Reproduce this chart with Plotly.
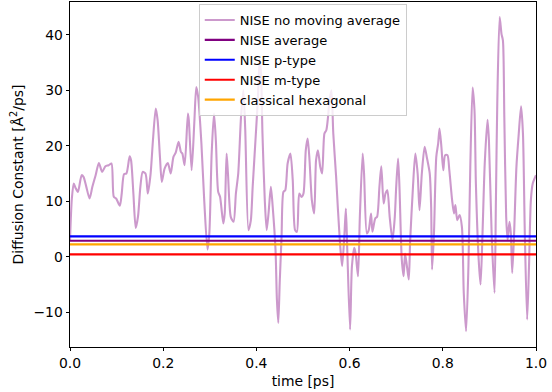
import plotly.graph_objects as go

# time [ps]
time_ps = [0.000, 0.004, 0.008, 0.012, 0.017, 0.025, 0.029, 0.035, 0.042, 0.048,
           0.055, 0.062, 0.069, 0.076, 0.083, 0.089, 0.094, 0.099, 0.107, 0.111,
           0.116, 0.121, 0.128, 0.131, 0.136, 0.141, 0.146, 0.151, 0.156, 0.162,
           0.167, 0.173, 0.178, 0.184, 0.188, 0.193, 0.197, 0.203, 0.210, 0.216,
           0.222, 0.227, 0.233, 0.238, 0.241, 0.246, 0.253, 0.255, 0.261, 0.267,
           0.271, 0.275, 0.282, 0.288, 0.295, 0.299, 0.304, 0.309, 0.313, 0.318,
           0.322, 0.329, 0.332, 0.336, 0.339, 0.345, 0.351, 0.356, 0.361, 0.367,
           0.372, 0.376, 0.383, 0.388, 0.392, 0.398, 0.403, 0.407, 0.410, 0.413,
           0.418, 0.422, 0.426, 0.431, 0.435, 0.441, 0.444, 0.447, 0.450, 0.454,
           0.458, 0.462, 0.467, 0.473, 0.478, 0.483, 0.487, 0.492, 0.497, 0.501,
           0.506, 0.510, 0.514, 0.519, 0.524, 0.528, 0.532, 0.537, 0.541, 0.546,
           0.550, 0.553, 0.557, 0.561, 0.565, 0.571, 0.575, 0.580, 0.584, 0.589,
           0.592, 0.595, 0.601, 0.605, 0.610, 0.613, 0.618, 0.622, 0.628, 0.631,
           0.637, 0.641, 0.646, 0.649, 0.655, 0.659, 0.664, 0.668, 0.673, 0.677,
           0.681, 0.686, 0.692, 0.697, 0.700, 0.704, 0.707, 0.712, 0.716, 0.719,
           0.723, 0.727, 0.730, 0.736, 0.741, 0.746, 0.750, 0.755, 0.761, 0.766,
           0.772, 0.775, 0.777, 0.781, 0.786, 0.790, 0.793, 0.797, 0.801, 0.805,
           0.810, 0.814, 0.820, 0.824, 0.827, 0.831, 0.836, 0.841, 0.845, 0.850,
           0.855, 0.859, 0.864, 0.868, 0.871, 0.877, 0.881, 0.885, 0.890, 0.896,
           0.899, 0.905, 0.911, 0.914, 0.917, 0.922, 0.926, 0.929, 0.932, 0.936,
           0.939, 0.943, 0.946, 0.949, 0.953, 0.958, 0.963, 0.968, 0.972, 0.976,
           0.981, 0.985, 0.989, 0.993, 1.000]

# NISE diffusion constant, no moving average [Å²/ps]
nise_raw = [3.0, 10.5, 13.2, 12.4, 11.7, 14.7, 14.4, 12.6, 10.5, 12.6,
            14.7, 16.9, 15.3, 16.3, 16.5, 16.8, 10.8, 10.5, 9.2, 11.4,
            14.9, 15.0, 18.1, 17.4, 11.4, 5.2, 7.3, 12.6, 15.3, 15.0,
            11.4, 15.0, 21.0, 26.7, 24.6, 18.0, 13.5, 15.9, 16.9, 15.0,
            18.0, 18.8, 20.7, 18.9, 18.6, 16.5, 25.8, 24.6, 15.6, 24.6,
            30.6, 28.8, 20.4, 10.2, 1.3, 4.2, 18.6, 25.8, 21.0, 11.7,
            10.8, 6.0, 7.8, 18.6, 15.0, 7.2, 6.3, 11.4, 15.0, 25.2,
            30.0, 23.0, 4.8, 6.5, 12.6, 21.0, 28.2, 35.5, 33.0, 22.2,
            10.2, 4.8, 7.8, 12.6, 9.0, 1.3, -7.7, -11.9, -4.7, 3.6,
            11.7, 12.0, 16.8, 18.6, 13.8, 4.8, 4.5, 11.4, 10.8, 11.4,
            19.2, 21.3, 17.4, 10.2, 7.8, 17.4, 19.2, 16.2, 15.0, 22.2,
            22.8, 24.6, 28.2, 30.0, 22.2, 14.5, 8.5, 1.8, -1.7, 4.2,
            8.7, 1.3, -13.1, -1.7, 1.6, 0.6, -3.5, 7.2, 18.6, 15.0,
            4.2, 4.8, 7.8, 4.5, 6.9, 7.2, 12.6, 16.3, 9.6, 11.4,
            12.0, 7.2, 3.0, 7.2, 12.6, 17.7, 12.6, -0.5, -3.5, 0.6,
            -1.7, -4.1, 3.0, 12.6, 18.6, 15.0, 8.4, 15.0, 19.8, 17.8,
            15.0, 9.0, -2.3, 4.2, 18.0, 20.4, 23.1, 19.8, 15.6, 18.3,
            18.3, 15.6, 10.2, 7.8, 9.3, 6.6, 7.5, 5.4, -6.5, -13.4,
            -1.7, 16.2, 30.5, 26.4, 13.2, -0.5, -5.0, 3.6, 16.8, 24.7,
            21.0, 3.6, -6.5, 10.2, 28.2, 43.2, 40.1, 39.0, 25.2, 7.2,
            3.0, 6.3, 4.2, -2.9, 4.2, 16.2, 22.2, 27.1, 22.2, 4.2,
            -11.3, -1.7, 10.2, 13.2, 14.7]

# constant reference values [Å²/ps]
nise_average = 2.90
nise_p_type = 3.67
nise_m_type = 0.43
classical_hexagonal = 2.23

x_range = [0.0, 1.0]
y_range = [-16.25, 45.9]

font_family = "DejaVu Sans, Verdana, sans-serif"
fs = 13.9

fig = go.Figure()
fig.add_trace(go.Scatter(
    x=time_ps, y=nise_raw, mode="lines", name="NISE no moving average",
    line=dict(color="rgba(128,0,128,0.4)", width=2.1, shape="spline", smoothing=0.7),
))
for name, val, col in [
    ("NISE average", nise_average, "#800080"),
    ("NISE p-type", nise_p_type, "#0000ff"),
    ("NISE m-type", nise_m_type, "#ff0000"),
    ("classical hexagonal", classical_hexagonal, "#ffa500"),
]:
    fig.add_trace(go.Scatter(
        x=x_range, y=[val, val], mode="lines", name=name,
        line=dict(color=col, width=2.1),
    ))

axis_common = dict(
    showline=True, linecolor="black", linewidth=0.8, mirror=True,
    ticks="outside", ticklen=3.5, tickwidth=0.8, tickcolor="black",
    showgrid=False, zeroline=False,
    tickfont=dict(family=font_family, size=fs, color="black"),
)

fig.update_layout(
    width=552, height=392,
    margin=dict(l=70, r=16, t=2, b=45),
    paper_bgcolor="white", plot_bgcolor="white",
    font=dict(family=font_family, size=fs, color="black"),
    xaxis=dict(range=x_range, tickvals=[0, 0.2, 0.4, 0.6, 0.8, 1.0], tickformat=".1f",
               title=dict(text="time [ps]", font=dict(family=font_family, size=fs), standoff=6),
               automargin=False, **axis_common),
    yaxis=dict(range=y_range, tickvals=[-10, 0, 10, 20, 30, 40],
               title=dict(text="Diffusion Constant [Å<sup>2</sup>/ps]",
                          font=dict(family=font_family, size=fs), standoff=6),
               automargin=True, **axis_common),
    legend=dict(
        x=0.2763, y=0.994, xanchor="left", yanchor="top",
        bgcolor="rgba(255,255,255,0.8)", bordercolor="#cccccc", borderwidth=1,
        font=dict(family=font_family, size=13, color="black"),
        tracegroupgap=0, itemwidth=30,
    ),
    showlegend=True,
)

fig.write_html("out.html", config={"displayModeBar": False},
               post_script="document.body.style.margin='0';document.body.style.padding='0';")
